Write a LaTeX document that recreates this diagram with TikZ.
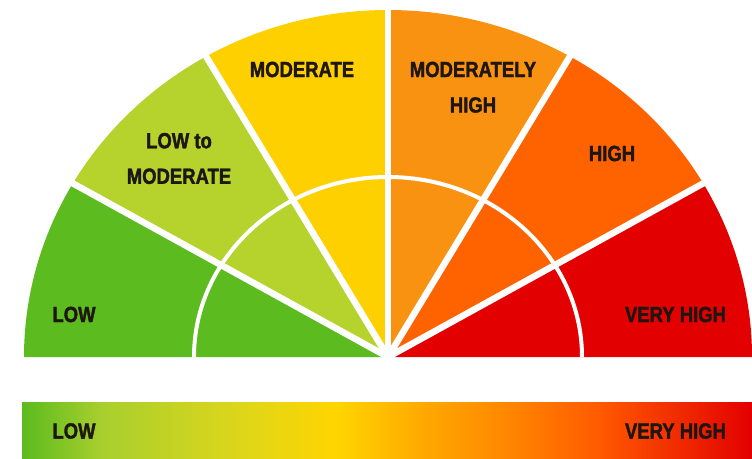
\documentclass[tikz,border=0pt]{standalone}
\usepackage{fontspec}
\newfontfamily\labfont{Liberation Sans}[FakeStretch=0.84, BoldFeatures={FakeBold=1.6}]
\definecolor{lowc}{RGB}{92,187,30}
\definecolor{lmc}{RGB}{182,210,44}
\definecolor{modc}{RGB}{255,208,0}
\definecolor{mhc}{RGB}{249,146,16}
\definecolor{highc}{RGB}{254,99,0}
\definecolor{vhc}{RGB}{226,0,0}
\definecolor{txtc}{RGB}{30,22,16}
\definecolor{g1}{RGB}{168,207,46}
\definecolor{g2}{RGB}{222,214,26}
\definecolor{g3}{RGB}{255,213,0}
\definecolor{g4}{RGB}{255,165,0}
\definecolor{g5}{RGB}{255,136,0}
\definecolor{g6}{RGB}{255,90,0}
\definecolor{g7}{RGB}{238,34,0}
\pgfdeclarehorizontalshading{riskbar}{100bp}{color(0bp)=(lowc); color(25bp)=(lowc); color(30.5bp)=(g1); color(40bp)=(g2); color(46.5bp)=(g3); color(53bp)=(g4); color(58bp)=(g5); color(64.5bp)=(g6); color(71bp)=(g7); color(75bp)=(vhc); color(100bp)=(vhc)}
\tikzset{
  lbl/.style={font=\labfont\bfseries\fontsize{22}{35.5}\selectfont, text=txtc, inner sep=0pt, align=center},
  sep/.style={draw=white, line width=6.5pt},
  innerarc/.style={draw=white, line width=4pt}
}
\begin{document}
\begin{tikzpicture}[x=1pt,y=1pt]
\useasboundingbox (0,0) rectangle (752,458);
\fill[white] (0,0) rectangle (752,458);
\coordinate (c) at (388,101);
% sectors
\fill[lowc]  (c) -- +(180:364pt and 347pt) arc[start angle=180, end angle=150, x radius=364pt, y radius=347pt] -- cycle;
\fill[lmc]   (c) -- +(150:364pt and 347pt) arc[start angle=150, end angle=120, x radius=364pt, y radius=347pt] -- cycle;
\fill[modc]  (c) -- +(120:364pt and 347pt) arc[start angle=120, end angle=90, x radius=364pt, y radius=347pt] -- cycle;
\fill[mhc]   (c) -- +(90:364pt and 347pt) arc[start angle=90, end angle=60, x radius=364pt, y radius=347pt] -- cycle;
\fill[highc] (c) -- +(60:364pt and 347pt) arc[start angle=60, end angle=30, x radius=364pt, y radius=347pt] -- cycle;
\fill[vhc]   (c) -- +(30:364pt and 347pt) arc[start angle=30, end angle=0, x radius=364pt, y radius=347pt] -- cycle;
% inner arc
\draw[innerarc] (c) ++(0:194pt and 180pt) arc[start angle=0, end angle=180, x radius=194pt, y radius=180pt];
% separators
\foreach \a in {30,60,90,120,150} {
  \draw[sep] (c) -- +(\a:370pt and 353pt);
}
% gradient bar
\shade[shading=riskbar] (22,0) rectangle (752,56);
% labels
\node[lbl] (low) at (74,143.5) {LOW};
\node[lbl] (lowmod) at (179,299.5) {LOW to\\MODERATE};
\node[lbl] (mod) at (302,388.5) {MODERATE};
\node[lbl] (modhigh) at (473,370.75) {MODERATELY\\HIGH};
\node[lbl] (high) at (612,304.5) {HIGH};
\node[lbl] (vhigh) at (675.5,143.5) {VERY HIGH};
\node[lbl] (barlow) at (74,27) {LOW};
\node[lbl] (barhigh) at (675.5,27) {VERY HIGH};
\end{tikzpicture}
\end{document}
